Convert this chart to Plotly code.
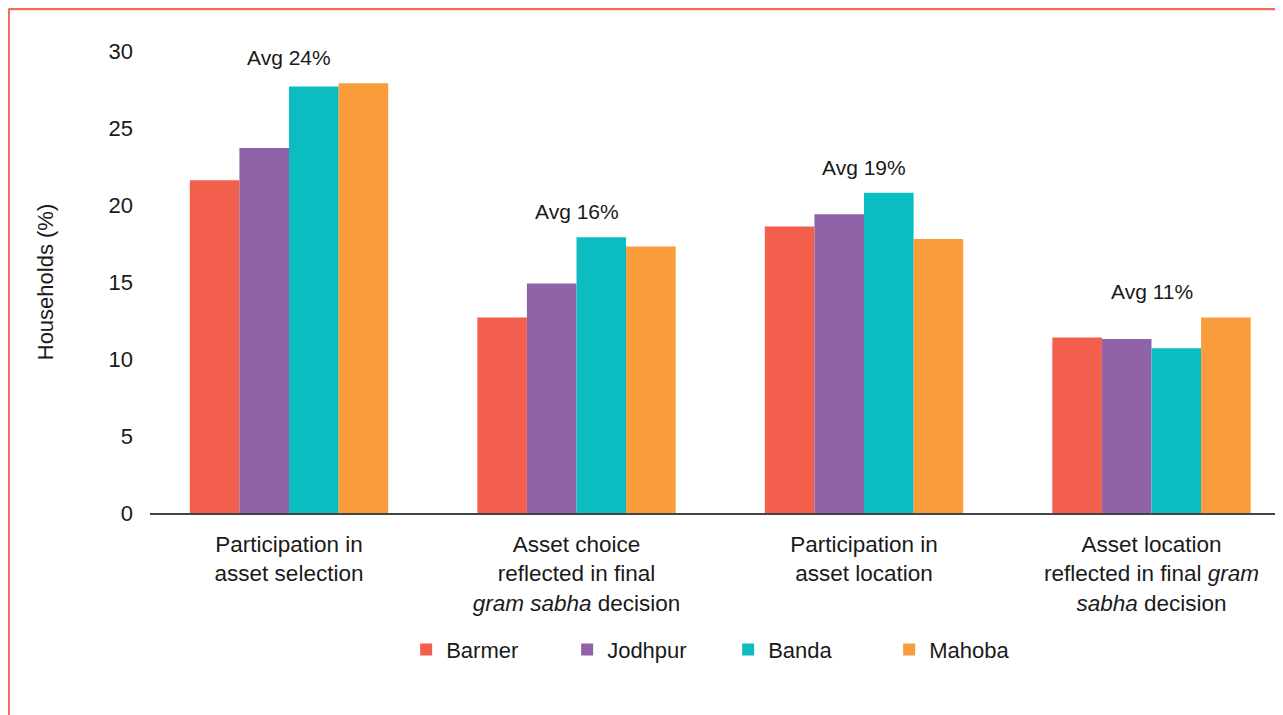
import plotly.graph_objects as go

categories = [
    "Participation in<br>asset selection",
    "Asset choice<br>reflected in final<br><i>gram sabha</i> decision",
    "Participation in<br>asset location",
    "Asset location<br>reflected in final <i>gram</i><br><i>sabha</i> decision",
]
districts = ["Barmer", "Jodhpur", "Banda", "Mahoba"]
barmer = [21.6, 12.7, 18.6, 11.4]
jodhpur = [23.7, 14.9, 19.4, 11.3]
banda = [27.7, 17.9, 20.8, 10.7]
mahoba = [27.9, 17.3, 17.8, 12.7]
averages = ["Avg 24%", "Avg 16%", "Avg 19%", "Avg 11%"]
colors = ["#f25f4c", "#9063a8", "#0bbcc1", "#f89c3c"]

series = [barmer, jodhpur, banda, mahoba]
xs = list(range(len(categories)))

fig = go.Figure()
for name, vals, col in zip(districts, series, colors):
    fig.add_trace(go.Bar(x=xs, y=vals, name=name, marker=dict(color=col, line=dict(width=0))))

for i, label in enumerate(averages):
    top = max(s[i] for s in series)
    fig.add_annotation(x=i, y=top, text=label, showarrow=False, yanchor="bottom",
                       yshift=12, font=dict(size=21, color="#1a1a1a"))

font_family = "Liberation Sans, Arial, sans-serif"
fig.update_layout(
    width=1275, height=707,
    margin=dict(l=142, r=6, t=43, b=202),
    paper_bgcolor="white", plot_bgcolor="white",
    font=dict(family=font_family, color="#1a1a1a", size=22),
    barmode="group", bargap=0.31, bargroupgap=0,
    showlegend=True,
    legend=dict(orientation="h", x=0.513, xanchor="center", y=-0.2507, yanchor="top",
                font=dict(size=22), traceorder="normal", itemclick=False,
                entrywidth=116),
    xaxis=dict(
        tickmode="array", tickvals=xs, ticktext=categories,
        range=[-0.4835, 3.4365], showgrid=False, zeroline=False,
        showline=True, linecolor="#444444", linewidth=2,
        ticks="", tickfont=dict(size=22.5), ticklabelstandoff=10,
    ),
    yaxis=dict(
        range=[0, 30], tickvals=[0, 5, 10, 15, 20, 25, 30], showgrid=False,
        zeroline=False, showline=False, ticks="", tickfont=dict(size=22),
        ticklabelstandoff=16,
        title=dict(text="Households (%)", font=dict(size=22), standoff=48),
    ),
)

# Decorative frame (top and left edges)
border = "#f26b5b"
fig.add_shape(type="line", xref="paper", yref="paper",
              x0=-0.1256, x1=1.01, y0=1.0915, y1=1.0915,
              line=dict(color=border, width=3))
fig.add_shape(type="line", xref="paper", yref="paper",
              x0=-0.1256, x1=-0.1256, y0=1.0915, y1=-0.45,
              line=dict(color=border, width=3))

fig.write_html("out.html")
